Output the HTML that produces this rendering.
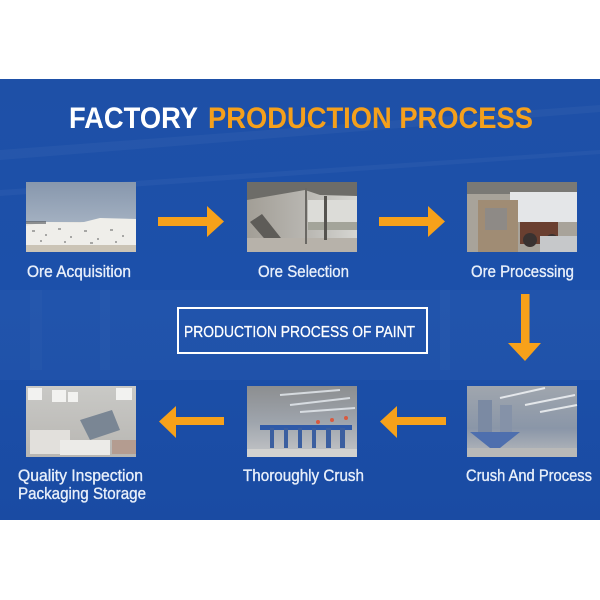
<!DOCTYPE html>
<html><head><meta charset="utf-8"><style>
html,body{margin:0;padding:0;background:#fff;}
svg{display:block;}
text{font-family:"Liberation Sans",sans-serif;}
</style></head><body>
<svg width="600" height="600" viewBox="0 0 600 600" xmlns="http://www.w3.org/2000/svg">
<defs>
<linearGradient id="bg" x1="0" y1="0" x2="0" y2="1">
<stop offset="0" stop-color="#1e50a7"/>
<stop offset="0.5" stop-color="#1c50aa"/>
<stop offset="1" stop-color="#1a4ba3"/>
</linearGradient>
<linearGradient id="sky1" x1="0" y1="0" x2="0" y2="1">
<stop offset="0" stop-color="#8797ad"/><stop offset="1" stop-color="#b7c2cf"/>
</linearGradient>
<linearGradient id="p2" x1="0" y1="0" x2="1" y2="0">
<stop offset="0" stop-color="#a29e96"/><stop offset="0.55" stop-color="#b9b7b2"/><stop offset="1" stop-color="#d6d6d2"/>
</linearGradient>
<linearGradient id="p4" x1="0" y1="0" x2="0" y2="1">
<stop offset="0" stop-color="#c9c9c6"/><stop offset="1" stop-color="#b8b6b2"/>
</linearGradient>
<linearGradient id="p5" x1="0" y1="0" x2="0" y2="1">
<stop offset="0" stop-color="#8c8e90"/><stop offset="0.5" stop-color="#9ea4ac"/><stop offset="1" stop-color="#c4c6c8"/>
</linearGradient>
<linearGradient id="p6" x1="0" y1="0" x2="0" y2="1">
<stop offset="0" stop-color="#a0a6ae"/><stop offset="0.6" stop-color="#8a96a8"/><stop offset="1" stop-color="#b8babd"/>
</linearGradient>
</defs>

<rect x="0" y="79" width="600" height="441" fill="url(#bg)"/>
<!-- faint background texture -->
<g fill="#ffffff">
<polygon points="0,150 600,105 600,112 0,160" opacity="0.04"/>
<polygon points="0,190 600,150 600,154 0,196" opacity="0.04"/>
<rect x="0" y="290" width="600" height="90" opacity="0.025"/>
<rect x="30" y="290" width="12" height="80" opacity="0.02"/>
<rect x="100" y="290" width="10" height="80" opacity="0.02"/>
<rect x="440" y="290" width="10" height="80" opacity="0.02"/>
</g>

<!-- Title -->
<text x="69" y="128" font-size="30" font-weight="bold" fill="#ffffff" textLength="129" lengthAdjust="spacingAndGlyphs">FACTORY</text>
<text x="208" y="128" font-size="30" font-weight="bold" fill="#f5a01c" textLength="325" lengthAdjust="spacingAndGlyphs">PRODUCTION PROCESS</text>

<!-- Photo 1 -->
<g>
<rect x="26" y="182" width="110" height="70" fill="url(#sky1)"/>
<rect x="26" y="222" width="110" height="30" fill="#e6e4df"/>
<polygon points="26,226 45,222 80,223 100,218 136,219 136,245 26,245" fill="#efeeea"/>
<g fill="#8a8a88" opacity="0.7">
<rect x="32" y="230" width="3" height="2"/><rect x="45" y="234" width="2" height="2"/><rect x="58" y="228" width="3" height="2"/>
<rect x="70" y="236" width="2" height="2"/><rect x="84" y="230" width="3" height="2"/><rect x="97" y="238" width="2" height="2"/>
<rect x="110" y="229" width="3" height="2"/><rect x="122" y="235" width="2" height="2"/><rect x="40" y="240" width="2" height="2"/>
<rect x="90" y="242" width="3" height="2"/><rect x="115" y="241" width="2" height="2"/><rect x="64" y="241" width="2" height="2"/>
</g>
<rect x="26" y="245" width="110" height="7" fill="#cbc4b6"/>
<rect x="26" y="221" width="20" height="3" fill="#50555a" opacity="0.6"/>
</g>

<!-- Photo 2 -->
<g>
<rect x="247" y="182" width="110" height="70" fill="url(#p2)"/>
<polygon points="247,182 357,182 357,196 320,195 305,190 247,200" fill="#6d6c68"/>
<rect x="308" y="200" width="49" height="30" fill="#dcdcd8"/>
<rect x="308" y="222" width="49" height="8" fill="#8a8b80" opacity="0.7"/>
<polygon points="250,222 262,214 292,252 276,252" fill="#5e5c58"/>
<rect x="247" y="238" width="110" height="14" fill="#b7b2aa"/>
<rect x="324" y="196" width="3" height="44" fill="#55534f"/>
<rect x="305" y="188" width="2" height="56" fill="#6a6864"/>
</g>

<!-- Photo 3 -->
<g>
<rect x="467" y="182" width="110" height="70" fill="#a8a39a"/>
<rect x="467" y="182" width="110" height="12" fill="#7a7975"/>
<rect x="510" y="192" width="67" height="30" fill="#e4e6e8"/>
<rect x="478" y="200" width="40" height="52" fill="#a08c74"/>
<rect x="485" y="208" width="22" height="22" fill="#8e8a86"/>
<rect x="520" y="222" width="38" height="22" fill="#6a3f30"/>
<circle cx="530" cy="240" r="7" fill="#3a3230"/>
<circle cx="552" cy="240" r="6" fill="#3a3230"/>
<rect x="540" y="236" width="37" height="16" fill="#c6c8ca"/>
</g>

<!-- Arrows row 1 -->
<polygon points="158,217 207,217 207,206 224,221.5 207,237 207,226 158,226" fill="#f7a11a"/>
<polygon points="379,217 428,217 428,206 445,221.5 428,237 428,226 379,226" fill="#f7a11a"/>

<!-- Row 1 labels -->
<g fill="#e8effa" stroke="#e8effa" stroke-width="0.35">
<text x="27" y="277" font-size="17" textLength="104" lengthAdjust="spacingAndGlyphs">Ore Acquisition</text>
<text x="258" y="277" font-size="17" textLength="91" lengthAdjust="spacingAndGlyphs">Ore Selection</text>
<text x="471" y="277" font-size="17" textLength="103" lengthAdjust="spacingAndGlyphs">Ore Processing</text>
</g>

<!-- Down arrow -->
<polygon points="521,294 529.5,294 529.5,343 541,343 525,361 508,343 521,343" fill="#f7a11a"/>

<!-- Center box -->
<rect x="178" y="308" width="249" height="45" fill="none" stroke="#ffffff" stroke-width="2"/>
<text x="184" y="337" font-size="16" fill="#ffffff" stroke="#ffffff" stroke-width="0.3" textLength="231" lengthAdjust="spacingAndGlyphs">PRODUCTION PROCESS OF PAINT</text>

<!-- Photo 4 -->
<g>
<rect x="26" y="386" width="110" height="71" fill="url(#p4)"/>
<rect x="28" y="388" width="14" height="12" fill="#f2f2f0"/>
<rect x="52" y="390" width="14" height="12" fill="#f2f2f0"/>
<rect x="68" y="392" width="10" height="10" fill="#f2f2f0"/>
<rect x="116" y="388" width="16" height="12" fill="#f2f2f0"/>
<polygon points="80,420 112,410 120,430 90,440" fill="#7a8694"/>
<rect x="30" y="430" width="40" height="24" fill="#e2e0dc"/>
<rect x="60" y="440" width="50" height="15" fill="#ecebe8"/>
<rect x="112" y="440" width="24" height="14" fill="#b49c90"/>
</g>

<!-- Photo 5 -->
<g>
<rect x="247" y="386" width="110" height="71" fill="url(#p5)"/>
<g stroke="#e8edf2" stroke-width="2" opacity="0.8">
<line x1="280" y1="395" x2="340" y2="390"/>
<line x1="290" y1="405" x2="350" y2="398"/>
<line x1="300" y1="412" x2="355" y2="408"/>
</g>
<rect x="260" y="425" width="92" height="5" fill="#2f5aa8"/>
<g fill="#3b5fa0">
<rect x="270" y="428" width="4" height="20"/><rect x="284" y="428" width="4" height="20"/>
<rect x="298" y="428" width="4" height="20"/><rect x="312" y="428" width="4" height="20"/>
<rect x="326" y="428" width="5" height="20"/><rect x="340" y="428" width="5" height="20"/>
</g>
<g fill="#d85a40"><circle cx="318" cy="422" r="2"/><circle cx="332" cy="420" r="2"/><circle cx="346" cy="418" r="2"/></g>
<rect x="247" y="449" width="110" height="8" fill="#d2d2d0"/>
</g>

<!-- Photo 6 -->
<g>
<rect x="467" y="386" width="110" height="71" fill="url(#p6)"/>
<g stroke="#f2f4f6" stroke-width="2" opacity="0.85">
<line x1="500" y1="398" x2="545" y2="388"/>
<line x1="525" y1="405" x2="575" y2="395"/>
<line x1="540" y1="412" x2="577" y2="405"/>
</g>
<rect x="478" y="400" width="14" height="38" fill="#7b8aa3"/>
<rect x="500" y="405" width="12" height="33" fill="#8592a8"/>
<polygon points="470,432 520,432 500,448 490,448" fill="#4e6fae"/>
<rect x="467" y="448" width="110" height="9" fill="#b9b9b8"/>
</g>

<!-- Arrows row 2 (left) -->
<polygon points="224,417 176,417 176,406 159,421.5 176,438 176,425 224,425" fill="#f7a11a"/>
<polygon points="446,417 397,417 397,406 380,421.5 397,438 397,425 446,425" fill="#f7a11a"/>

<!-- Row 2 labels -->
<g fill="#e8effa" stroke="#e8effa" stroke-width="0.35">
<text x="18" y="481" font-size="17" textLength="125" lengthAdjust="spacingAndGlyphs">Quality Inspection</text>
<text x="18" y="499" font-size="17" textLength="128" lengthAdjust="spacingAndGlyphs">Packaging Storage</text>
<text x="243" y="481" font-size="17" textLength="121" lengthAdjust="spacingAndGlyphs">Thoroughly Crush</text>
<text x="466" y="481" font-size="17" textLength="126" lengthAdjust="spacingAndGlyphs">Crush And Process</text>
</g>
</svg>
</body></html>
